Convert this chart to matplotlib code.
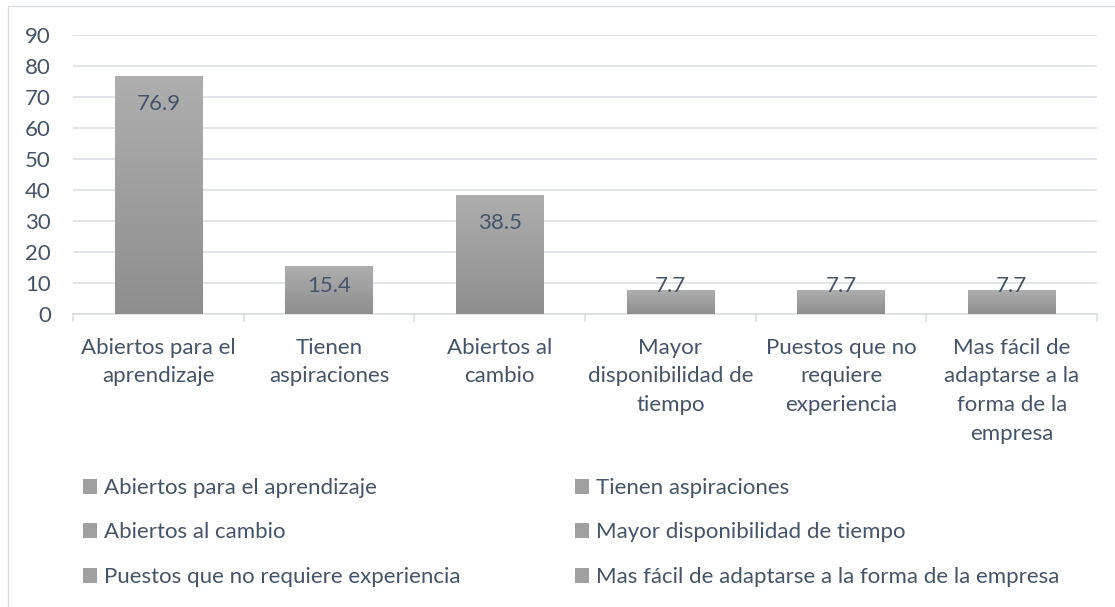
import numpy as np
import matplotlib
matplotlib.use("Agg")
import matplotlib.pyplot as plt
from matplotlib.patches import Rectangle, Patch
from matplotlib.colors import LinearSegmentedColormap

# Datos del grafico
categories = [
    "Abiertos para el aprendizaje",
    "Tienen aspiraciones",
    "Abiertos al cambio",
    "Mayor disponibilidad de tiempo",
    "Puestos que no requiere experiencia",
    "Mas fácil de adaptarse a la forma de la empresa",
]
tick_labels = [
    "Abiertos para el\naprendizaje",
    "Tienen\naspiraciones",
    "Abiertos al\ncambio",
    "Mayor\ndisponibilidad de\ntiempo",
    "Puestos que no\nrequiere\nexperiencia",
    "Mas fácil de\nadaptarse a la\nforma de la\nempresa",
]
values = [76.9, 15.4, 38.5, 7.7, 7.7, 7.7]
y_ticks = [0, 10, 20, 30, 40, 50, 60, 70, 80, 90]

TEXT = "#44546A"
GRID = "#D9DCE2"
BAR_TOP = "#AEAEAE"
BAR_BOTTOM = "#8E8E8E"
FONT = "Lato"
FS = 16

plt.rcParams['font.family'] = [FONT, 'DejaVu Sans']

fig = plt.figure(figsize=(11.15, 6.07), dpi=100)
W, H = 1115, 607
ax = fig.add_axes([73 / W, 1 - 314 / H, (1097 - 73) / W, (314 - 35) / H])

# Marco del grafico
fig.add_artist(Rectangle((8 / W, -0.1), 1.2, 1 - 6 / H + 0.1, transform=fig.transFigure,
                         fill=False, edgecolor=GRID, linewidth=1.0))

x = np.arange(len(values))
bars = ax.bar(x, values, width=0.51, color=BAR_TOP, zorder=2)

# Degradado en las barras
cmap = LinearSegmentedColormap.from_list("g", [BAR_BOTTOM, BAR_TOP])
grad = np.linspace(0, 1, 256).reshape(-1, 1)
for b in bars:
    bx, by = b.get_x(), b.get_y()
    bw, bh = b.get_width(), b.get_height()
    im = ax.imshow(grad, cmap=cmap, origin="lower", aspect="auto",
                   extent=(bx, bx + bw, by, by + bh), zorder=3)
    im.set_clip_path(b)
    b.set_facecolor("none")

ax.set_xlim(-0.5, len(values) - 0.5)
ax.set_ylim(0, 90)

# Etiquetas de valor
px_per_unit = (314 - 35) / 90.0
for i, v in enumerate(values):
    h_px = v * px_per_unit
    off_px = min(28, h_px - 28)
    ax.annotate(f"{v}", (i, v), xytext=(0, -off_px * 0.72), textcoords="offset points",
                ha="center", va="center", fontsize=FS, color=TEXT, zorder=5)

ax.set_yticks(y_ticks)
ax.yaxis.grid(True, color=GRID, linewidth=1.1, zorder=0)
ax.set_axisbelow(True)
ax.tick_params(axis="y", length=0, pad=16, labelsize=FS, labelcolor=TEXT)

ax.set_xticks(x)
ax.set_xticklabels(tick_labels, fontsize=FS, color=TEXT, linespacing=1.55)
ax.tick_params(axis="x", which="major", length=0, pad=17)
ax.set_xticks(np.arange(-0.5, len(values)), minor=True)
ax.tick_params(axis="x", which="minor", length=6, width=1.1, color=GRID)

for s in ["top", "right", "left"]:
    ax.spines[s].set_visible(False)
ax.spines["bottom"].set_color(GRID)
ax.spines["bottom"].set_linewidth(1.1)

# Leyenda en dos columnas
handles = [Patch(facecolor="#A0A0A0", edgecolor="none") for _ in categories]
leg_kw = dict(frameon=False, fontsize=FS, labelcolor=TEXT, handlelength=0.65, handleheight=0.65,
              handletextpad=0.3, labelspacing=1.1, borderpad=0, borderaxespad=0, loc="upper left")
fig.legend(handles[0::2], categories[0::2], bbox_to_anchor=(83 / W, 1 - 478 / H), **leg_kw)
fig.legend(handles[1::2], categories[1::2], bbox_to_anchor=(575 / W, 1 - 478 / H), **leg_kw)

fig.savefig("out.png", dpi=100)
